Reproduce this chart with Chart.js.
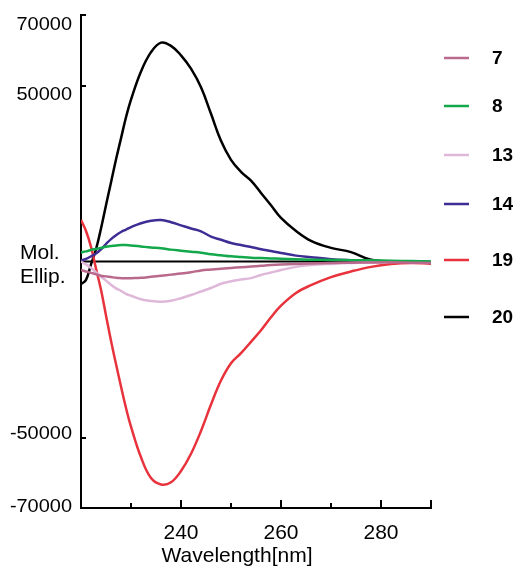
<!DOCTYPE html>
<html>
<head>
<meta charset="utf-8">
<script src="https://cdn.jsdelivr.net/npm/chart.js@4/dist/chart.umd.min.js"></script>
<style>
html,body{margin:0;padding:0;background:#fff;}
canvas{display:block;}
</style>
</head>
<body>
<canvas id="c" width="516" height="567"></canvas>
<script>
// ---- data ----
const wavelengths = [220,221,222,223,224,225,226,227,228,229,230,232,234,236,238,240,242,244,246,248,250,252,254,256,258,260,263,266,270,274,278,282,286,290];
const seriesNames = ['7','8','13','14','19','20'];
const s7  = [-2400,-2800,-3200,-3600,-4000,-4200,-4400,-4600,-4700,-4750,-4700,-4600,-4300,-4000,-3700,-3400,-3000,-2500,-2250,-2000,-1800,-1600,-1420,-1200,-1000,-850,-700,-550,-400,-300,-250,-200,-300,-400];
const s8  = [2600,2900,3300,3600,3900,4200,4400,4600,4700,4700,4600,4300,4000,3800,3400,3100,2800,2500,2100,1800,1500,1300,1100,1000,900,800,650,550,450,400,350,250,150,0];
const s13 = [0,-800,-1800,-3000,-4300,-5400,-6600,-7600,-8300,-9200,-9700,-10700,-11200,-11400,-11100,-10400,-9500,-8500,-7500,-6300,-5600,-5100,-4700,-3800,-3100,-2400,-1500,-1000,-650,-400,-200,-100,-50,0];
const s14 = [300,800,1500,2300,3500,5000,6400,7500,8400,9100,9800,10900,11600,11800,11200,10300,9400,8600,7100,6200,5300,4700,4150,3500,3000,2450,1700,1250,700,400,200,100,50,0];
const s19 = [11800,8700,4200,-2000,-8000,-15300,-22500,-29100,-35500,-41600,-46900,-55600,-61500,-63300,-62700,-59500,-54600,-48100,-40600,-33800,-28900,-26000,-22800,-19500,-15800,-12500,-8900,-6700,-4400,-2800,-1500,-700,-400,-600];
const s20 = [-6400,-5200,-800,3500,9400,16000,22500,29000,35000,41000,46000,54000,59500,62200,61300,58600,54800,49500,42000,34300,28900,25500,23000,19500,16000,12400,8700,5900,3900,2700,500,0,0,0];
const xTickValues = [230,240,250,260,270,280,290];
const xTickLabels = [240,260,280];
const yTickValues = [-70000,-50000,0,50000,70000];
const yTickLabels = [70000,50000,-50000,-70000];

const seriesValues = [s7,s8,s13,s14,s19,s20];
const seriesColors = ['#b8698c','#12a84b','#dfb8d9','#3f2c94','#e8323c','#000000'];
const legendY = [58,106,155,204,260,317];
// baseline offset of each y label from its tick (same order as yTickLabels)
const yLabelBaselineShift = [14.5,14,1.6,3.7];

const FONT = "'Liberation Sans', Arial, sans-serif";

const datasets = seriesNames.map((n,i)=>({
  label: n,
  data: wavelengths.map((w,j)=>({x:w, y:seriesValues[i][j]})),
  borderColor: seriesColors[i],
  backgroundColor: seriesColors[i],
  borderWidth: 2.5,
  pointRadius: 0,
  fill: false,
  tension: 0.4
}));

const decor = {
  id: 'decor',
  beforeDatasetsDraw(chart){
    const ctx = chart.ctx, ys = chart.scales.y, a = chart.chartArea;
    ctx.save();
    const y0 = ys.getPixelForValue(0);
    ctx.strokeStyle = '#000'; ctx.lineWidth = 2;
    ctx.beginPath(); ctx.moveTo(a.left, y0); ctx.lineTo(a.right, y0); ctx.stroke();
    ctx.restore();
  },
  afterDraw(chart){
    const ctx = chart.ctx, xs = chart.scales.x, ys = chart.scales.y, a = chart.chartArea;
    ctx.save();
    ctx.strokeStyle = '#000'; ctx.lineWidth = 2;
    // inner x tick marks
    xTickValues.forEach(v=>{
      const px = Math.round(xs.getPixelForValue(v));
      const long = (v % 20 === 0) || v === xs.max;
      ctx.beginPath(); ctx.moveTo(px, a.bottom + 1); ctx.lineTo(px, a.bottom - (long ? 8 : 5)); ctx.stroke();
    });
    // inner y tick marks + labels
    ctx.fillStyle = '#000';
    yTickLabels.forEach((v,i)=>{
      const py = ys.getPixelForValue(v);
      ctx.beginPath(); ctx.moveTo(a.left - 1, Math.round(py)); ctx.lineTo(a.left + 5, Math.round(py)); ctx.stroke();
      ctx.save();
      ctx.translate(72, py + yLabelBaselineShift[i]);
      ctx.scale(1.14, 1);
      ctx.font = '17.5px ' + FONT;
      ctx.textAlign = 'right'; ctx.textBaseline = 'alphabetic';
      ctx.fillText(String(v), 0, 0);
      ctx.restore();
    });
    // y axis title at zero
    ctx.font = '21px ' + FONT;
    ctx.textAlign = 'left'; ctx.textBaseline = 'alphabetic';
    const y0 = ys.getPixelForValue(0);
    ctx.fillText('Mol.', 20, y0 - 3);
    ctx.fillText('Ellip.', 20, y0 + 21);
    // x axis title
    ctx.textAlign = 'center';
    ctx.fillText('Wavelength[nm]', 237, 562);
    // legend
    chart.data.datasets.forEach((ds,i)=>{
      const ly = legendY[i];
      ctx.strokeStyle = ds.borderColor; ctx.lineWidth = 2.5;
      ctx.beginPath(); ctx.moveTo(444, ly); ctx.lineTo(469, ly); ctx.stroke();
      ctx.fillStyle = '#000';
      ctx.font = 'bold 19px ' + FONT;
      ctx.textAlign = 'left'; ctx.textBaseline = 'middle';
      ctx.fillText(ds.label, 492, ly + 1);
    });
    ctx.restore();
  }
};

new Chart(document.getElementById('c'), {
  type: 'line',
  data: { datasets },
  plugins: [decor],
  options: {
    responsive: false,
    animation: false,
    layout: { padding: { top: 15, right: 85, left: 0, bottom: 0 } },
    plugins: { legend: { display: false }, tooltip: { enabled: false }, title: { display: false } },
    scales: {
      x: {
        type: 'linear', min: 220, max: 290,
        afterFit(s){ s.height = 59; },
        afterBuildTicks(s){ s.ticks = xTickValues.map(v=>({value:v})); },
        ticks: {
          callback: v => xTickLabels.includes(v) ? String(v) : '',
          font: { family: FONT, size: 21 }, color: '#000', padding: 13,
          maxRotation: 0, autoSkip: false
        },
        grid: { display: false, drawTicks: false },
        border: { display: true, color: '#000', width: 2 }
      },
      y: {
        type: 'linear', min: -70000, max: 70000,
        afterFit(s){ s.width = 81; },
        afterBuildTicks(s){ s.ticks = yTickValues.map(v=>({value:v})); },
        ticks: { callback: () => '', autoSkip: false, padding: 8 },
        grid: { display: false, drawTicks: false },
        border: { display: true, color: '#000', width: 2 }
      }
    }
  }
});
</script>
</body>
</html>
